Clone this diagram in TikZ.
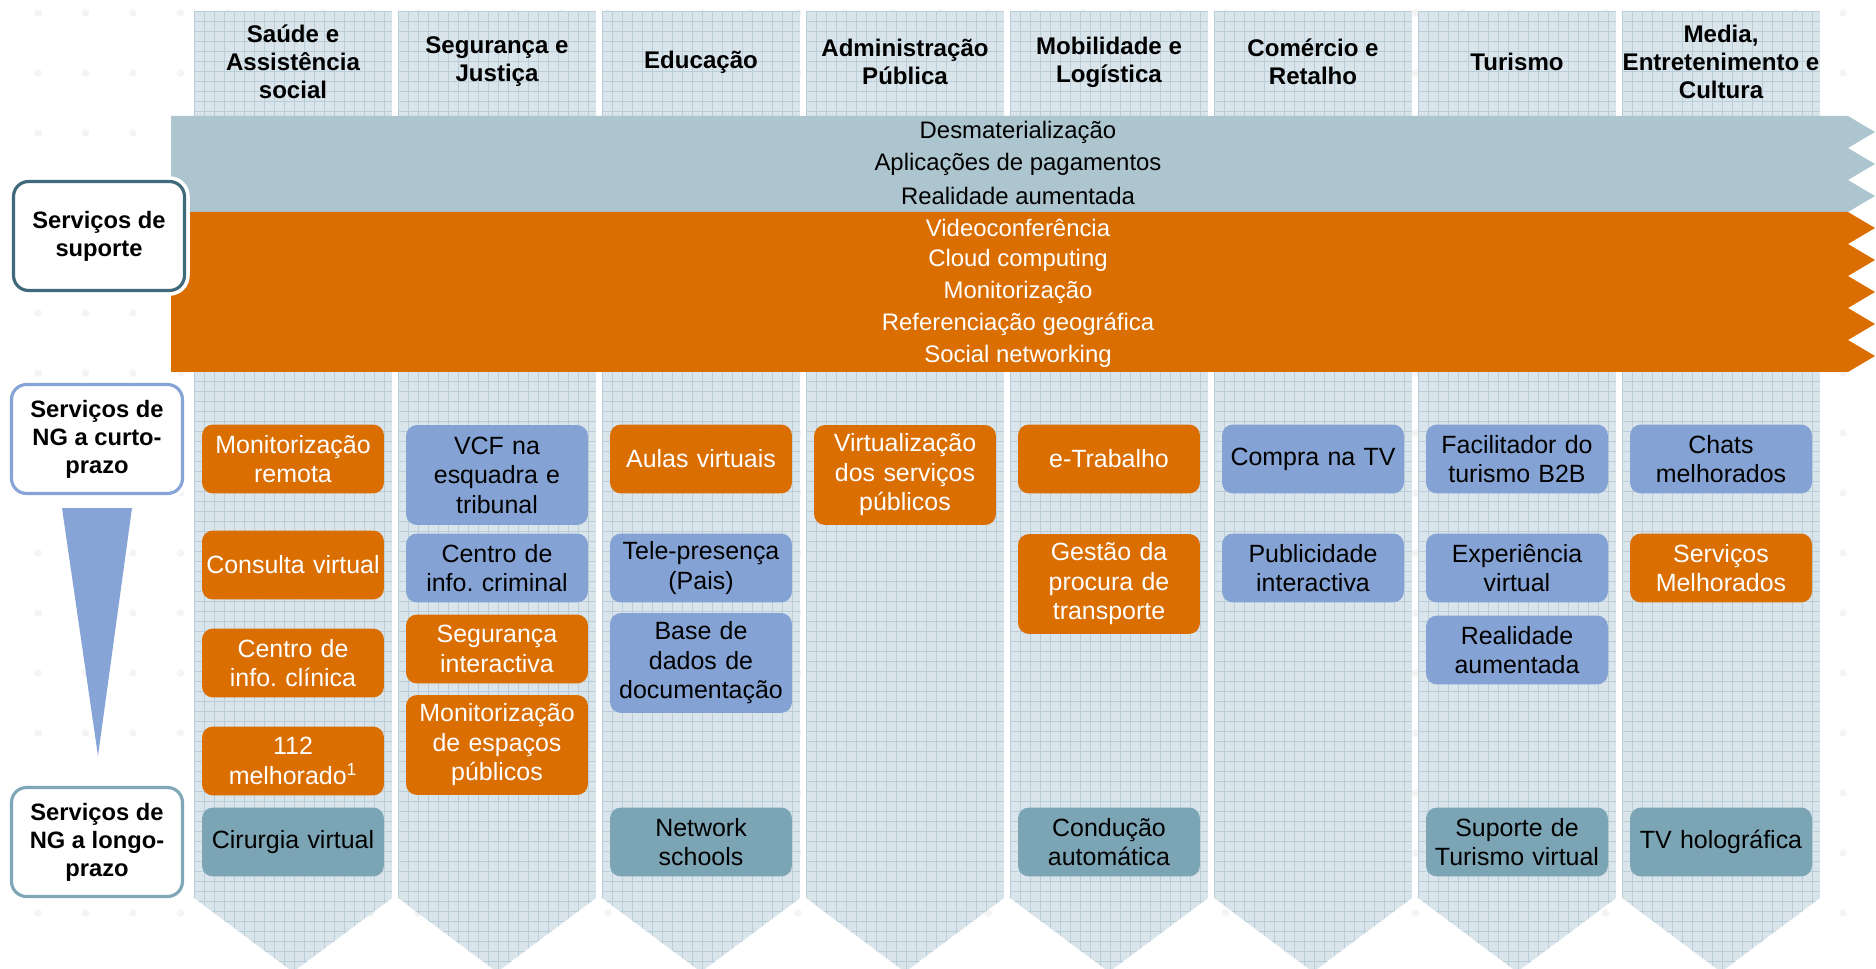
\documentclass[tikz,border=0pt]{standalone}
\usepackage{fontspec}
\setmainfont{Liberation Sans}
\usetikzlibrary{positioning}
\frenchspacing

\definecolor{ngorange}{HTML}{DB6E00}
\definecolor{ngblue}{HTML}{84A2D3}
\definecolor{ngteal}{HTML}{7BA4B5}
\definecolor{bandgrey}{HTML}{ADC5CF}
\definecolor{colfill}{HTML}{DAE5EB}
\definecolor{colgrid}{HTML}{B9CED8}
\definecolor{supline}{HTML}{3E6A7C}
\definecolor{curtoline}{HTML}{86A5D6}
\definecolor{longoline}{HTML}{7FA7B7}

\tikzset{
  hdr/.style={font=\bfseries\fontsize{13.7}{16}\selectfont, align=center},
  bandtxt/.style={font=\fontsize{13.6}{15}\selectfont, text=black},
  sidebox/.style={draw, fill=white, line width=1.8pt, rounded corners=0.3cm,
    minimum width=3.42cm, minimum height=2.18cm, align=center,
    font=\bfseries\fontsize{13.5}{16}\selectfont,
    preaction={draw=white, line width=6pt}},
  item/.style={rounded corners=0.22cm, align=center, text width=3.5cm,
    inner xsep=0.07cm, inner ysep=0pt, minimum height=1.38cm,
    font=\fontsize{14.2}{16.8}\selectfont},
  tall/.style={minimum height=2cm},
  svcorange/.style={item, fill=ngorange, text=white},
  svcblue/.style={item, fill=ngblue, text=black},
  svclong/.style={item, fill=ngteal, text=black}
}

\begin{document}
\begin{tikzpicture}[x=0.02cm, y=-0.02cm]
\useasboundingbox (0,0) rectangle (1876,969);

% faint dots in the background
\foreach \dx in {0,...,39}
  \foreach \dy in {0,...,16}
    \fill[gray!9] (38+47.5*\dx, 13+60*\dy) circle (2.2pt);

% the eight columns
\foreach \k in {0,...,7}{
  \pgfmathsetmacro{\L}{194+204*\k}
  \pgfmathsetmacro{\R}{\L+198}
  \pgfmathsetmacro{\C}{\L+99}
  \begin{scope}
    \clip (\L,11) -- (\R,11) -- (\R,898) -- (\C,972) -- (\L,898) -- cycle;
    \fill[colfill] (\L,11) rectangle (\R,984);
    \foreach \gx in {0,10,...,198}
      \draw[colgrid, line width=0.3pt] (\L+\gx,11) -- (\L+\gx,984);
    \foreach \gy in {11,21,...,981}
      \draw[colgrid, line width=0.3pt] (\L,\gy) -- (\R,\gy);
  \end{scope}
}

% column headers
\node[hdr] (h1) at (293,62) {Saúde e\\Assistência\\social};
\node[hdr] (h2) at (497,62) {Segurança e\\Justiça};
\node[hdr] (h3) at (701,62) {Educação};
\node[hdr] (h4) at (905,62) {Administração\\Pública};
\node[hdr] (h5) at (1109,62) {Mobilidade e\\Logística};
\node[hdr] (h6) at (1313,62) {Comércio e\\Retalho};
\node[hdr] (h7) at (1517,62) {Turismo};
\node[hdr] (h8) at (1721,62) {Media,\\Entretenimento e\\Cultura};

% support bands
\fill[bandgrey] (171,116) -- (1848,116) -- (1875,132) -- (1848,148) -- (1875,164)
  -- (1848,180) -- (1875,196) -- (1848,212) -- (171,212) -- cycle;
\fill[ngorange] (171,212) -- (1848,212) -- (1875,228) -- (1848,244) -- (1875,260)
  -- (1848,276) -- (1875,292) -- (1848,308) -- (1875,324) -- (1848,340)
  -- (1875,356) -- (1848,372) -- (171,372) -- cycle;

\foreach \txt [count=\i] in {Desmaterialização, Aplicações de pagamentos, Realidade aumentada}
  \node[bandtxt] (g\i) at (1018,100+32*\i) {\txt};
\foreach \txt [count=\i] in {Videoconferência, Cloud computing, Monitorização,
    Referenciação geográfica, Social networking}
  \node[bandtxt, text=white] (o\i) at (1018,196+32*\i) {\txt};

% labels on the left
\node[sidebox, draw=supline] (sup) at (99,236) {Serviços de\\suporte};
\node[sidebox, draw=curtoline] (curto) at (97,439) {Serviços de\\NG a curto-\\prazo};
\node[sidebox, draw=longoline] (longo) at (97,842) {Serviços de\\NG a longo-\\prazo};
\fill[curtoline] (62,508) -- (132,508) -- (98,756) -- cycle;

% Saude
\node[svcorange] (s1) at (293,459) {Monitorização\\remota};
\node[svcorange] (s2) at (293,565) {Consulta virtual};
\node[svcorange] (s3) at (293,663) {Centro de\\info. clínica};
\node[svcorange] (s4) at (293,761) {112\\melhorado\textsuperscript{1}};
\node[svclong] (s5) at (293,842) {Cirurgia virtual};

% Seguranca
\node[svcblue, tall] (j1) at (497,475) {VCF na\\esquadra e\\tribunal};
\node[svcblue] (j2) at (497,568) {Centro de\\info. criminal};
\node[svcorange] (j3) at (497,649) {Segurança\\interactiva};
\node[svcorange, tall] (j4) at (497,745) {Monitorização\\de espaços\\públicos};

% Educacao
\node[svcorange] (e1) at (701,459) {Aulas virtuais};
\node[svcblue] (e2) at (701,568) {Tele-presença\\(Pais)};
\node[svcblue, tall] (e3) at (701,663) {Base de\\dados de\\documentação};
\node[svclong] (e4) at (701,842) {Network\\schools};

% Administracao
\node[svcorange, tall] (a1) at (905,475) {Virtualização\\dos serviços\\públicos};

% Mobilidade
\node[svcorange] (m1) at (1109,459) {e-Trabalho};
\node[svcorange, tall] (m2) at (1109,584) {Gestão da\\procura de\\transporte};
\node[svclong] (m3) at (1109,842) {Condução\\automática};

% Comercio
\node[svcblue] (c1) at (1313,459) {Compra na TV};
\node[svcblue] (c2) at (1313,568) {Publicidade\\interactiva};

% Turismo
\node[svcblue] (t1) at (1517,459) {Facilitador do\\turismo B2B};
\node[svcblue] (t2) at (1517,568) {Experiência\\virtual};
\node[svcblue] (t3) at (1517,650) {Realidade\\aumentada};
\node[svclong] (t4) at (1517,842) {Suporte de\\Turismo virtual};

% Media
\node[svcblue] (d1) at (1721,459) {Chats\\melhorados};
\node[svcorange] (d2) at (1721,568) {Serviços\\Melhorados};
\node[svclong] (d3) at (1721,842) {TV holográfica};
\end{tikzpicture}
\end{document}
